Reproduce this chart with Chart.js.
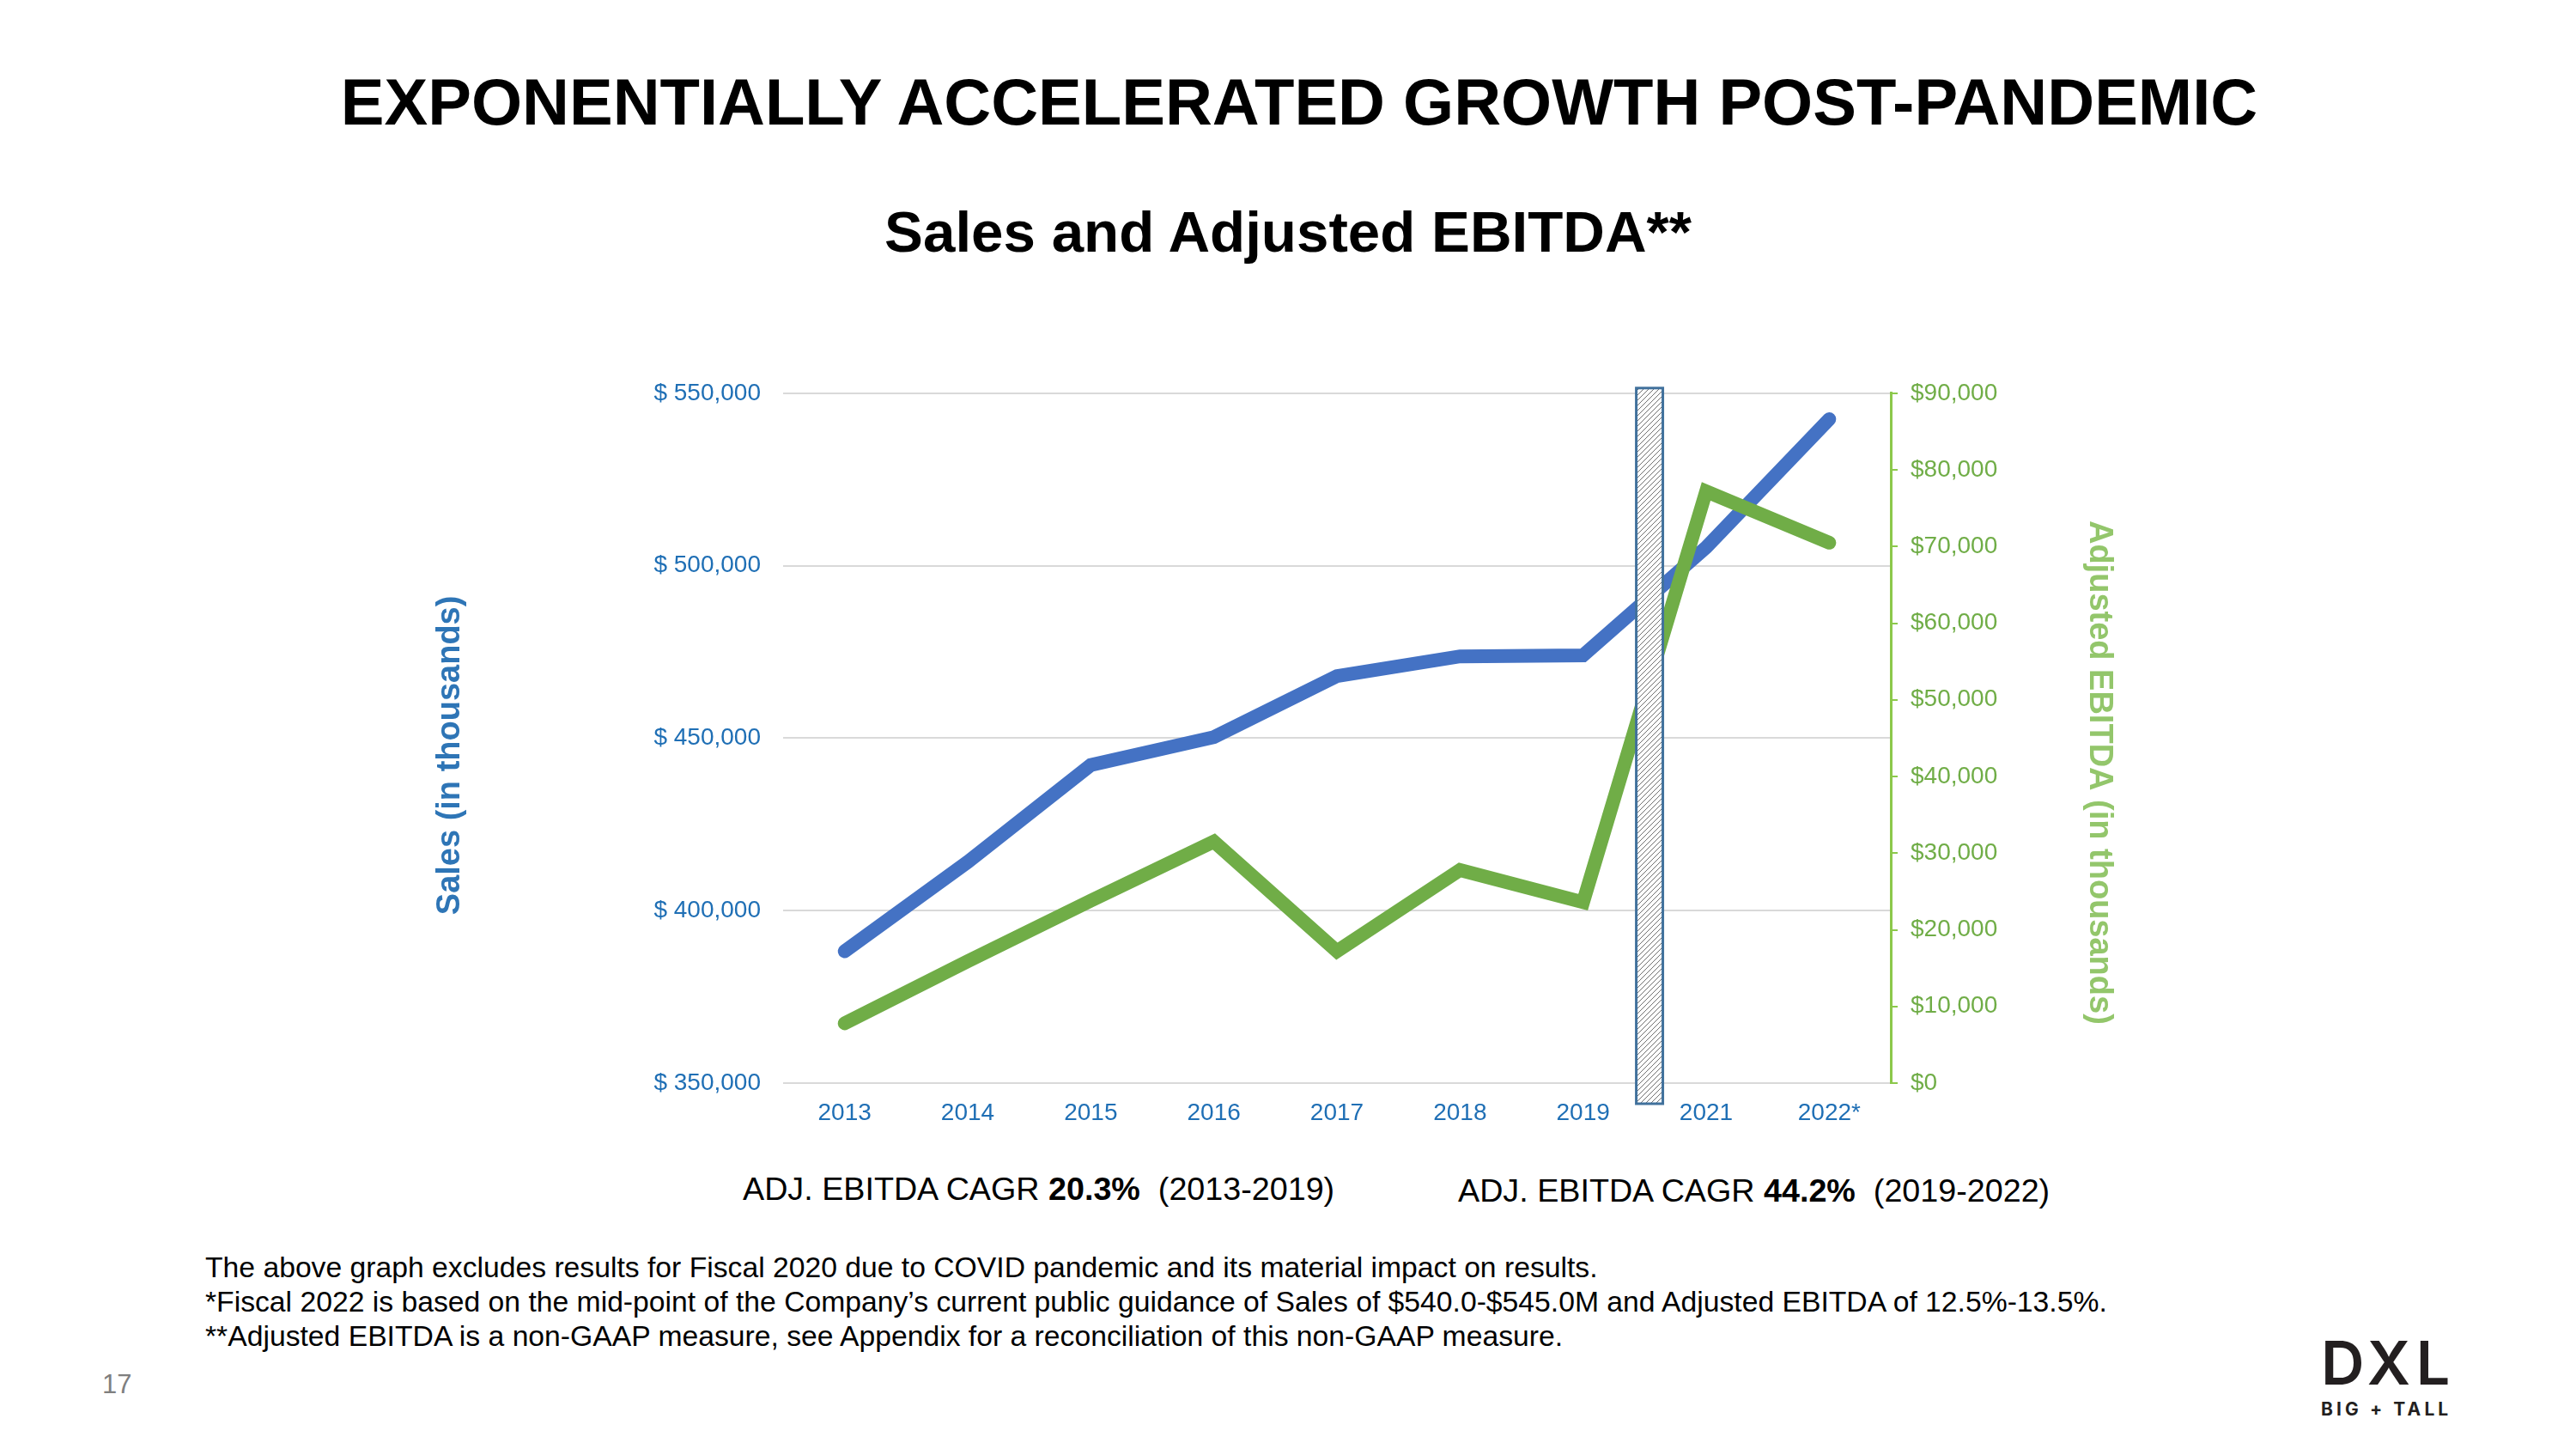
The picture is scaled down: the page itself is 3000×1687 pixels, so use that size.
<!DOCTYPE html>
<html>
<head>
<meta charset="utf-8">
<script src="https://cdn.jsdelivr.net/npm/chart.js@4/dist/chart.umd.min.js"></script>
<style>
    body {
        margin: 0;
        width: 3000px;
        height: 1687px;
        background: #ffffff;
        position: relative;
        overflow: hidden;
        font-family: "Liberation Sans", Arial, sans-serif;
        color: #000;
    }
    .abs { position: absolute; white-space: nowrap; }
    #title {
        left: 13px; width: 3000px; top: 81px;
        text-align: center; font-size: 76px; font-weight: bold; line-height: 1;
    }
    #subtitle {
        left: 0; width: 3000px; top: 236px;
        text-align: center; font-size: 67.3px; font-weight: bold; line-height: 1;
    }
    #chartBox {
        position: absolute; left: 440px; top: 415px; width: 2100px; height: 906px;
    }
    .cagr { font-size: 37.7px; line-height: 1; top: 1366px; }
    #notes { left: 239px; top: 1455px; font-size: 33.7px; line-height: 40px; }
    #pageNum { left: 119px; top: 1596px; font-size: 31px; line-height: 1; color: #7f7f7f; }
    #logo { left: 2703px; top: 1552px; font-family: Inter, "Noto Sans", sans-serif; color: #231f20; }
    #logo .big { font-size: 70px; font-weight: 600; line-height: 1; letter-spacing: 6.5px; }
    #logo .small { font-size: 21px; font-weight: 700; letter-spacing: 4.1px; margin-top: 8px; line-height: 1; }
</style>
</head>
<body>
<div id="title" class="abs">EXPONENTIALLY ACCELERATED GROWTH POST-PANDEMIC</div>
<div id="subtitle" class="abs">Sales and Adjusted EBITDA**</div>

<div id="chartBox"><canvas id="salesChart"></canvas></div>

<div class="abs cagr" style="left:865px;">ADJ. EBITDA CAGR <b>20.3%</b>&nbsp; (2013-2019)</div>
<div class="abs cagr" style="left:1698px; top:1368px;">ADJ. EBITDA CAGR <b>44.2%</b>&nbsp; (2019-2022)</div>

<div id="notes" class="abs">
    The above graph excludes results for Fiscal 2020 due to COVID pandemic and its material impact on results.<br>
    *Fiscal 2022 is based on the mid-point of the Company’s current public guidance of Sales of $540.0-$545.0M and Adjusted EBITDA of 12.5%-13.5%.<br>
    **Adjusted EBITDA is a non-GAAP measure, see Appendix for a reconciliation of this non-GAAP measure.
</div>

<div id="pageNum" class="abs">17</div>
<div id="logo" class="abs">
    <div class="big">DXL</div>
    <div class="small">BIG + TALL</div>
</div>

<script>
// Chart data (in thousands)
const years = ['2013', '2014', '2015', '2016', '2017', '2018', '2019', '2021', '2022*'];
const salesValues = [388200, 414100, 442200, 450300, 468000, 473700, 474000, 505300, 542500];
const ebitdaValues = [7800, 15900, 23800, 31500, 17200, 27800, 23600, 77200, 70500];

// Fiscal 2020 excluded: a hatched marker sits between these two years
const gapAfter = '2019';

// Colours
const salesColor = '#4472C4';
const ebitdaColor = '#70AD47';
const salesTextColor = '#1F6FB5';
const ebitdaTextColor = '#70AD47';
const ebitdaAxisColor = '#8CC84B';

const chartFont = '"Liberation Sans", Arial, sans-serif';
const titleFont = 'bold 38px "Liberation Sans Narrow", "Arial Narrow", "Liberation Sans", Arial, sans-serif';

function money(value, spaced) {
    return '$' + (spaced ? ' ' : '') + value.toLocaleString('en-US');
}

// Hatch pattern for the pandemic gap
function makeHatch() {
    const tile = document.createElement('canvas');
    tile.width = 6;
    tile.height = 6;
    const c = tile.getContext('2d');
    c.fillStyle = '#ffffff';
    c.fillRect(0, 0, 6, 6);
    c.strokeStyle = '#6f6f6f';
    c.lineWidth = 1;
    c.beginPath();
    c.moveTo(0, 6);
    c.lineTo(6, 0);
    c.moveTo(-1, 1);
    c.lineTo(1, -1);
    c.moveTo(5, 7);
    c.lineTo(7, 5);
    c.stroke();
    return tile;
}

const gapMarker = {
    id: 'gapMarker',
    afterDatasetsDraw(chart) {
        const { ctx, chartArea, scales } = chart;
        const x = scales.x;
        const i = years.indexOf(gapAfter);
        const left = x.getPixelForValue(i);
        const right = x.getPixelForValue(i + 1);
        const center = left + (right - left) * 0.54;
        const width = (right - left) * 0.216;
        const top = chartArea.top - 6;
        const bottom = chartArea.bottom + 24;

        ctx.save();
        ctx.fillStyle = ctx.createPattern(makeHatch(), 'repeat');
        ctx.fillRect(center - width / 2, top, width, bottom - top);
        ctx.strokeStyle = '#41719C';
        ctx.lineWidth = 3;
        ctx.strokeRect(center - width / 2, top, width, bottom - top);
        ctx.restore();
    }
};

// Axis titles, drawn a little below the middle like the original slide
const axisTitles = {
    id: 'axisTitles',
    afterDraw(chart) {
        const { ctx, chartArea, scales } = chart;
        const mid = (chartArea.top + chartArea.bottom) / 2;

        ctx.save();
        ctx.font = titleFont;
        ctx.textAlign = 'center';
        ctx.textBaseline = 'middle';

        ctx.save();
        ctx.translate(scales.ySales.left + 85, mid + 20);
        ctx.rotate(-Math.PI / 2);
        ctx.fillStyle = '#2E75B6';
        ctx.fillText('Sales (in thousands)', 0, 0);
        ctx.restore();

        ctx.save();
        ctx.translate(scales.yEbitda.right - 96, mid + 40);
        ctx.rotate(Math.PI / 2);
        ctx.fillStyle = '#93C66B';
        ctx.fillText('Adjusted EBITDA (in thousands)', 0, 0);
        ctx.restore();

        ctx.restore();
    }
};

function initChart() {
    const ctx = document.getElementById('salesChart').getContext('2d');

    new Chart(ctx, {
        type: 'line',
        data: {
            labels: years,
            datasets: [{
                label: 'Sales',
                data: salesValues,
                yAxisID: 'ySales',
                borderColor: salesColor,
                backgroundColor: salesColor,
                borderWidth: 16,
                borderCapStyle: 'round',
                pointRadius: 0,
                tension: 0,
                order: 2
            }, {
                label: 'Adjusted EBITDA',
                data: ebitdaValues,
                yAxisID: 'yEbitda',
                borderColor: ebitdaColor,
                backgroundColor: ebitdaColor,
                borderWidth: 16,
                borderCapStyle: 'round',
                pointRadius: 0,
                tension: 0,
                order: 1
            }]
        },
        options: {
            responsive: true,
            maintainAspectRatio: false,
            animation: false,
            devicePixelRatio: 1,
            layout: {
                padding: { top: 31, left: 0, right: 0, bottom: 0 }
            },
            plugins: {
                legend: { display: false },
                tooltip: { enabled: false }
            },
            scales: {
                x: {
                    offset: true,
                    grid: { display: false, drawTicks: false },
                    border: { display: false },
                    ticks: {
                        color: salesTextColor,
                        font: { family: chartFont, size: 28 },
                        padding: 18,
                        maxRotation: 0
                    },
                    afterFit: (scale) => { scale.height = 60; }
                },
                ySales: {
                    position: 'left',
                    min: 350000,
                    max: 550000,
                    ticks: {
                        stepSize: 50000,
                        color: salesTextColor,
                        font: { family: chartFont, size: 28 },
                        padding: 26,
                        callback: (value) => money(value, true)
                    },
                    grid: {
                        color: '#D9D9D9',
                        lineWidth: 2,
                        drawTicks: false
                    },
                    border: { display: false },
                    afterFit: (scale) => { scale.width = 472; }
                },
                yEbitda: {
                    position: 'right',
                    min: 0,
                    max: 90000,
                    ticks: {
                        stepSize: 10000,
                        color: ebitdaTextColor,
                        font: { family: chartFont, size: 28 },
                        padding: 15,
                        callback: (value) => money(value, false)
                    },
                    grid: {
                        drawOnChartArea: false,
                        drawTicks: true,
                        tickLength: 8,
                        color: ebitdaAxisColor,
                        lineWidth: 2
                    },
                    border: { display: true, color: ebitdaAxisColor, width: 3 },
                    afterFit: (scale) => { scale.width = 338; }
                }
            }
        },
        plugins: [gapMarker, axisTitles]
    });
}

initChart();
</script>
</body>
</html>
